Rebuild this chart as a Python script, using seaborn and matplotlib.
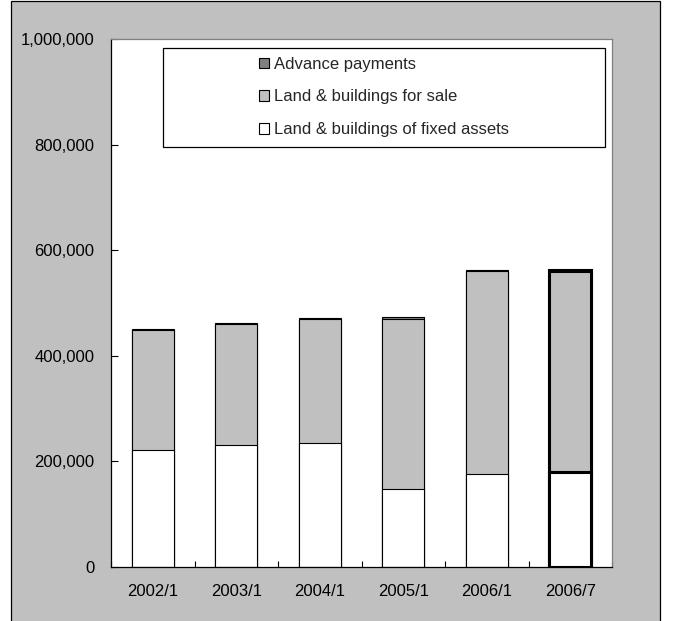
import matplotlib
matplotlib.use("Agg")
import matplotlib.pyplot as plt
from matplotlib.patches import Rectangle, Patch
from matplotlib.ticker import FuncFormatter
import numpy as np
import pandas as pd
import seaborn as sns

# Real-estate holdings by balance-sheet date (yen, thousands)
periods = ["2002/1", "2003/1", "2004/1", "2005/1", "2006/1", "2006/7"]
fixed_assets = [222000, 231000, 235500, 148000, 176000, 180000]
for_sale = [226500, 230000, 235000, 322000, 385000, 381000]
advance = [2000, 2000, 1500, 4000, 1500, 1500]

series_labels = ["Advance payments", "Land & buildings for sale",
                 "Land & buildings of fixed assets"]
yticks = [0, 200000, 400000, 600000, 800000, 1000000]

df = pd.DataFrame({"period": periods, "fixed": fixed_assets,
                   "sale": for_sale, "adv": advance})
df["lvl_fixed"] = df["fixed"]
df["lvl_sale"] = df["fixed"] + df["sale"]
df["lvl_adv"] = df["lvl_sale"] + df["adv"]

sns.set_theme(style="white")
plt.rcParams["font.family"] = ["Liberation Sans", "DejaVu Sans"]

W, H = 673, 621
fig = plt.figure(figsize=(W / 100, H / 100), dpi=100)
fig.patch.set_facecolor("white")

# grey chart panel with black frame
fig.patches.append(Rectangle((11 / W, -0.02), (660 - 11) / W, 1.02 - 1 / H,
                             transform=fig.transFigure, facecolor="#C0C0C0",
                             edgecolor="black", linewidth=0.9, zorder=-10))

ax = fig.add_axes([111 / W, 1 - 567 / H, (612 - 111) / W, (567 - 39) / H])
ax.set_zorder(1)
ax.set_facecolor("white")

layers = [("lvl_adv", "#808080"), ("lvl_sale", "#C0C0C0"), ("lvl_fixed", "white")]
for col, color in layers:
    sns.barplot(data=df, x="period", y=col, color=color, width=0.5,
                edgecolor="black", linewidth=0.8, saturation=1, ax=ax)

# emphasise the latest period
n = len(periods)
for i, patch in enumerate(ax.patches):
    if i % n == n - 1:
        patch.set_linewidth(2.2)

ax.set_ylim(0, 1000000)
ax.set_xlim(-0.5, n - 0.5)
ax.set_yticks(yticks)
ax.yaxis.set_major_formatter(FuncFormatter(lambda v, p: f"{int(v):,}"))
ax.set_xticks(range(n))
ax.set_xticklabels(periods)
ax.set_xlabel("")
ax.set_ylabel("")

# category-axis ticks sit between bars
ax.set_xticks(np.arange(-0.5, n + 0.5, 1.0), minor=True)
ax.tick_params(axis="x", which="major", length=0, pad=12, labelsize=12,
               colors="black")
ax.tick_params(axis="x", which="minor", direction="in", length=4, width=0.8,
               color="black", bottom=True)
ax.tick_params(axis="y", direction="in", length=5, width=0.8, pad=12,
               labelsize=12, colors="black", left=True)

for side in ["left", "bottom"]:
    ax.spines[side].set_color("black")
    ax.spines[side].set_linewidth(0.9)
for side in ["top", "right"]:
    ax.spines[side].set_visible(True)
    ax.spines[side].set_color("#808080")
    ax.spines[side].set_linewidth(0.9)

# legend box
box_l, box_r, box_t, box_b = 163, 605, 48, 147
ax.add_patch(Rectangle(((box_l - 111) / 501, (567 - box_b) / 528),
                       (box_r - box_l) / 501, (box_b - box_t) / 528,
                       transform=ax.transAxes, facecolor="white",
                       edgecolor="black", linewidth=0.9, zorder=5))
handles = [Patch(facecolor=c, edgecolor="black", linewidth=0.8)
           for c in ["#808080", "#C0C0C0", "white"]]
leg = ax.legend(handles, series_labels, loc="center",
                bbox_to_anchor=((384 - 111) / 501, (567 - 97) / 528),
                frameon=False, fontsize=12, handlelength=0.6,
                handleheight=0.6, handletextpad=0.25, labelspacing=1.06,
                borderpad=0)
leg.set_zorder(6)

fig.savefig("out.png", dpi=100)
